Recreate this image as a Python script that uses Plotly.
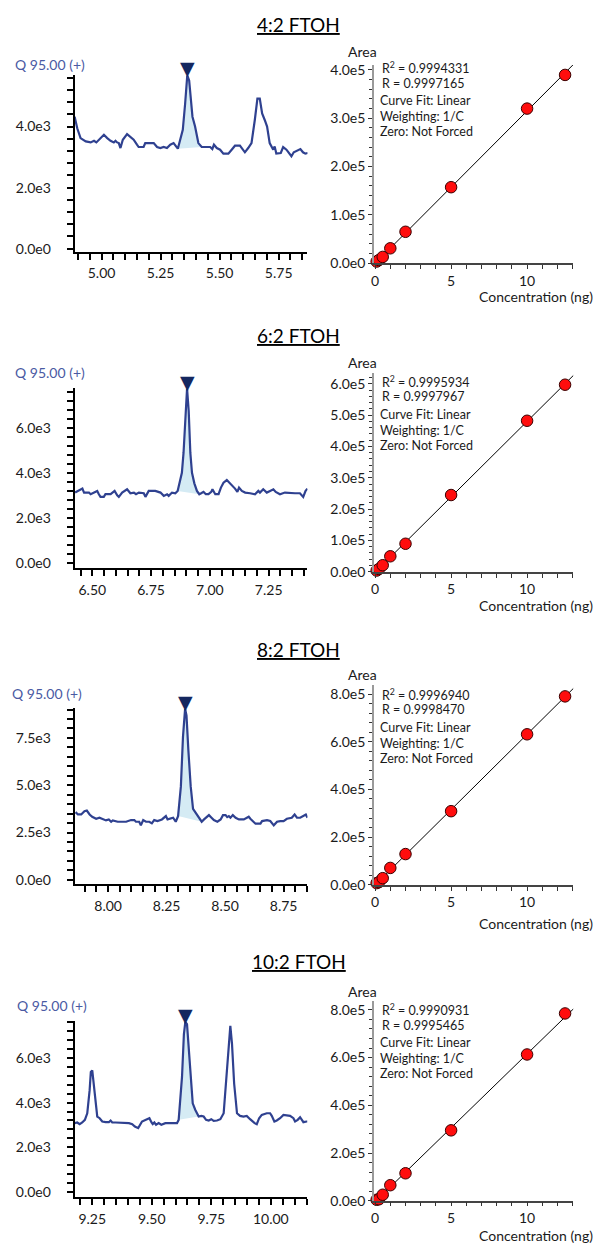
import numpy as np
import plotly.graph_objects as go

W, H = 599, 1251
FONT = "Lato"

compounds = ["4:2 FTOH", "6:2 FTOH", "8:2 FTOH", "10:2 FTOH"]
channel_label = "Q 95.00 (+)"

# ---------------- chromatogram traces (retention time, intensity) ----------------
t_1 = [4.886, 4.897, 4.911, 4.933, 4.954, 4.968, 4.978, 4.989, 5.003, 5.010, 5.024, 5.038, 5.052, 5.059,
       5.066, 5.073, 5.080, 5.090, 5.108, 5.122, 5.136, 5.150, 5.157, 5.178, 5.185, 5.221, 5.235, 5.249,
       5.263, 5.277, 5.291, 5.305, 5.312, 5.323, 5.333, 5.344, 5.354, 5.363, 5.371, 5.378, 5.385, 5.396,
       5.410, 5.424, 5.460, 5.469, 5.476, 5.488, 5.502, 5.516, 5.537, 5.551, 5.565, 5.586, 5.600, 5.607,
       5.621, 5.635, 5.649, 5.660, 5.670, 5.680, 5.691, 5.701, 5.712, 5.727, 5.733, 5.740, 5.759, 5.769,
       5.783, 5.793, 5.804, 5.814, 5.832, 5.842, 5.853, 5.863, 5.874]
i_1 = [4324, 3946, 3622, 3514, 3481, 3535, 3481, 3568, 3654, 3730, 3622, 3535, 3481, 3535,
       3481, 3459, 3297, 3568, 3751, 3643, 3568, 3405, 3330, 3330, 3459, 3459, 3330, 3297,
       3330, 3297, 3405, 3459, 3373, 3276, 3568, 3892, 4757, 5676, 5514, 4865, 4324, 4000,
       3459, 3330, 3330, 3265, 3405, 3297, 3243, 3114, 3114, 3243, 3373, 3373, 3243, 3157,
       3297, 3459, 4216, 4919, 4919, 4432, 4216, 4000, 3459, 3243, 3351, 3114, 3135, 3330,
       3243, 3135, 3027, 3157, 3243, 3265, 3157, 3114, 3135]

t_2 = [6.427, 6.436, 6.451, 6.458, 6.465, 6.486, 6.493, 6.507, 6.521, 6.528, 6.535, 6.549, 6.556, 6.578,
       6.595, 6.606, 6.613, 6.627, 6.648, 6.662, 6.677, 6.686, 6.698, 6.719, 6.726, 6.740, 6.768, 6.790,
       6.804, 6.818, 6.825, 6.839, 6.853, 6.863, 6.874, 6.881, 6.888, 6.895, 6.903, 6.910, 6.917, 6.924,
       6.934, 6.945, 6.955, 6.963, 6.973, 6.983, 6.994, 7.006, 7.011, 7.023, 7.037, 7.047, 7.058, 7.072,
       7.083, 7.093, 7.107, 7.117, 7.124, 7.136, 7.150, 7.171, 7.192, 7.206, 7.213, 7.227, 7.242, 7.256,
       7.270, 7.280, 7.298, 7.319, 7.340, 7.362, 7.383, 7.397, 7.407, 7.415]
i_2 = [3132, 3176, 3250, 3309, 3132, 3132, 3059, 3132, 3206, 3059, 2941, 2941, 3059, 3059,
       3206, 3015, 2941, 3132, 3279, 3103, 3132, 3059, 3132, 3103, 2941, 3206, 3206, 3132,
       2985, 3059, 2985, 3132, 3103, 3206, 3721, 4015, 4897, 6515, 7765, 6765, 4897, 4015,
       3544, 3206, 3059, 3103, 3162, 3059, 3059, 3162, 3279, 3059, 3059, 3353, 3574, 3691,
       3574, 3426, 3309, 3162, 3353, 3206, 3132, 3103, 3059, 3206, 3132, 3279, 3132, 3206,
       3279, 3162, 3059, 3132, 3103, 3103, 3103, 2941, 3206, 3309]

t_3 = [7.861, 7.871, 7.885, 7.899, 7.909, 7.921, 7.932, 7.949, 7.963, 7.977, 7.991, 8.003, 8.013, 8.020,
       8.041, 8.077, 8.098, 8.112, 8.119, 8.133, 8.140, 8.150, 8.162, 8.176, 8.187, 8.197, 8.211, 8.230,
       8.240, 8.247, 8.254, 8.268, 8.278, 8.289, 8.299, 8.311, 8.320, 8.329, 8.335, 8.343, 8.353, 8.363,
       8.374, 8.389, 8.400, 8.410, 8.420, 8.431, 8.442, 8.452, 8.467, 8.481, 8.491, 8.502, 8.509, 8.516,
       8.523, 8.533, 8.545, 8.559, 8.580, 8.601, 8.608, 8.630, 8.651, 8.658, 8.679, 8.693, 8.708, 8.722,
       8.736, 8.750, 8.764, 8.785, 8.797, 8.807, 8.821, 8.835, 8.845, 8.852]
i_3 = [3578, 3455, 3455, 3630, 3665, 3455, 3333, 3228, 3281, 3193, 3141, 3193, 3071, 3141,
       3071, 3071, 3158, 3158, 3071, 3071, 2880, 3158, 3071, 3071, 2984, 3158, 3106, 3193,
       3281, 3368, 3193, 3228, 3281, 3071, 3368, 4938, 7556, 9039, 8690, 6858, 4938, 3752,
       3542, 3281, 3071, 3193, 3281, 3420, 3281, 3158, 3071, 3193, 3420, 3420, 3316, 3368,
       3281, 3420, 3281, 3193, 3193, 3333, 3228, 2967, 2967, 3106, 3158, 3106, 2880, 3071,
       3106, 3106, 3228, 3281, 3455, 3281, 3281, 3368, 3455, 3281]

t_4 = [9.177, 9.187, 9.197, 9.208, 9.219, 9.229, 9.239, 9.244, 9.250, 9.256, 9.264, 9.271, 9.281, 9.292,
       9.306, 9.320, 9.327, 9.334, 9.348, 9.369, 9.390, 9.404, 9.418, 9.429, 9.443, 9.453, 9.459, 9.480,
       9.490, 9.499, 9.504, 9.511, 9.518, 9.529, 9.540, 9.557, 9.578, 9.592, 9.606, 9.613, 9.627, 9.635,
       9.641, 9.648, 9.655, 9.662, 9.672, 9.683, 9.697, 9.708, 9.718, 9.728, 9.739, 9.750, 9.760, 9.774,
       9.788, 9.802, 9.811, 9.823, 9.830, 9.837, 9.846, 9.858, 9.871, 9.885, 9.899, 9.913, 9.923, 9.932,
       9.941, 9.951, 9.962, 9.983, 9.997, 10.004, 10.015, 10.025, 10.039, 10.053, 10.081, 10.095, 10.102,
       10.113, 10.123, 10.137, 10.151, 10.154]
i_4 = [3081, 3110, 3036, 3110, 3229, 3525, 4562, 5376, 5450, 4858, 3821, 3377, 3303, 3155,
       3125, 3125, 3199, 3110, 3110, 3110, 3110, 3081, 3036, 2932, 2858, 3081, 3155, 3258,
       3303, 3110, 3036, 3110, 3007, 3081, 3007, 3081, 3081, 3081, 3081, 3229, 5154, 7079,
       7627, 7523, 6339, 5154, 3969, 3673, 3377, 3407, 3377, 3229, 3199, 3258, 3184, 3199,
       3258, 3525, 4858, 6635, 7449, 6635, 4858, 3525, 3407, 3377, 3407, 3258, 3155, 3081,
       3036, 3303, 3451, 3525, 3525, 3407, 3155, 3199, 3303, 3451, 3407, 3303, 3155,
       3229, 3347, 3125, 3155, 3155]

# integration window (start, end) of the quantified peak
peak_window_1 = (5.323, 5.424)
peak_window_2 = (6.863, 6.955)
peak_window_3 = (8.299, 8.400)
peak_window_4 = (9.613, 9.697)

# chromatogram tick values / labels
chrom_yticks_1 = [0, 2000, 4000]
chrom_ylabels_1 = ["0.0e0", "2.0e3", "4.0e3"]
chrom_yticks_2 = [0, 2000, 4000, 6000]
chrom_ylabels_2 = ["0.0e0", "2.0e3", "4.0e3", "6.0e3"]
chrom_yticks_3 = [0, 2500, 5000, 7500]
chrom_ylabels_3 = ["0.0e0", "2.5e3", "5.0e3", "7.5e3"]
chrom_yticks_4 = [0, 2000, 4000, 6000]
chrom_ylabels_4 = ["0.0e0", "2.0e3", "4.0e3", "6.0e3"]
chrom_xticks_1 = [5.00, 5.25, 5.50, 5.75]
chrom_xticks_2 = [6.50, 6.75, 7.00, 7.25]
chrom_xticks_3 = [8.00, 8.25, 8.50, 8.75]
chrom_xticks_4 = [9.25, 9.50, 9.75, 10.00]

# ---------------- calibration curves ----------------
conc = [0.1, 0.25, 0.5, 1, 2, 5, 10, 12.5]
area_1 = [3400, 6500, 13000, 30800, 65000, 157300, 320000, 389700]
area_2 = [4000, 9000, 21000, 49500, 89500, 245000, 482000, 597000]
area_3 = [7000, 11000, 27700, 70600, 128700, 308600, 631000, 790000]
area_4 = [4000, 6000, 25000, 65000, 115000, 295000, 613000, 785000]

r2_text = ["0.9994331", "0.9995934", "0.9996940", "0.9990931"]
r_text = ["0.9997165", "0.9997967", "0.9998470", "0.9995465"]
fit_lines = ["Curve Fit: Linear", "Weighting: 1/C", "Zero: Not Forced"]

cal_yticks_1 = [0, 100000, 200000, 300000, 400000]
cal_ylabels_1 = ["0.0e0", "1.0e5", "2.0e5", "3.0e5", "4.0e5"]
cal_yticks_2 = [0, 100000, 200000, 300000, 400000, 500000, 600000]
cal_ylabels_2 = ["0.0e0", "1.0e5", "2.0e5", "3.0e5", "4.0e5", "5.0e5", "6.0e5"]
cal_yticks_3 = [0, 200000, 400000, 600000, 800000]
cal_ylabels_3 = ["0.0e0", "2.0e5", "4.0e5", "6.0e5", "8.0e5"]
cal_yticks_4 = [0, 200000, 400000, 600000, 800000]
cal_ylabels_4 = ["0.0e0", "2.0e5", "4.0e5", "6.0e5", "8.0e5"]
cal_xticks = [0, 5, 10]
cal_xlabels = ["0", "5", "10"]

# ---------------- layout geometry (pixels) ----------------
chrom_geo = [  # x domain px, y domain px (top, bottom), y range, x range, y minor dtick
    dict(x=(72, 306), y=(72, 250), yr=(-97, 5680), xr=(4.886, 5.872), ym=400),
    dict(x=(72, 306), y=(388, 569.3), yr=(-220, 7777), xr=(6.425, 7.415), ym=400),
    dict(x=(72, 306), y=(711, 888.3), yr=(-209, 9073), xr=(7.857, 8.852), ym=500),
    dict(x=(72, 306), y=(1026.7, 1205), yr=(-253, 7671), xr=(9.176, 10.154), ym=400),
]
cal_geo = [
    dict(y=(61.7, 261.7), yr=(0, 410000), ym=20000),
    dict(y=(372.7, 573.3), yr=(0, 634000), ym=20000),
    dict(y=(687.3, 889.3), yr=(0, 839000), ym=40000),
    dict(y=(1006.7, 1208.3), yr=(0, 837000), ym=40000),
]
cal_x_dom = (373, 573.3)
cal_x_range = (-0.065, 13.05)
title_y = [20.5, 335, 651.7, 966.7]
qlabel_pos = [(10, 61), (10, 371.7), (7.5, 695.7), (12, 1011.7)]
area_y = [48.3, 361.7, 676.7, 996.7]
concl_y = [295.7, 607.7, 928.3, 1243.3]
stats_y0 = [64, 380.7, 696.7, 1015]
stats_off = [0, 16, 33.5, 49.5, 65]

traces_t = [t_1, t_2, t_3, t_4]
traces_i = [i_1, i_2, i_3, i_4]
windows = [peak_window_1, peak_window_2, peak_window_3, peak_window_4]
c_yt = [chrom_yticks_1, chrom_yticks_2, chrom_yticks_3, chrom_yticks_4]
c_yl = [chrom_ylabels_1, chrom_ylabels_2, chrom_ylabels_3, chrom_ylabels_4]
c_xt = [chrom_xticks_1, chrom_xticks_2, chrom_xticks_3, chrom_xticks_4]
areas = [area_1, area_2, area_3, area_4]
k_yt = [cal_yticks_1, cal_yticks_2, cal_yticks_3, cal_yticks_4]
k_yl = [cal_ylabels_1, cal_ylabels_2, cal_ylabels_3, cal_ylabels_4]


def px_x(p):
    return p / W


def px_y(p):
    return 1 - p / H


LINE_BLUE = "#2f4190"
FILL_BLUE = "#d5ebf4"
NAVY = "#15285f"
TXT = "#1a1a1a"

fig = go.Figure()
layout = dict(width=W, height=H, margin=dict(l=0, r=0, t=0, b=0),
              paper_bgcolor="white", plot_bgcolor="white", showlegend=False,
              font=dict(family=FONT, size=14, color=TXT))
annotations = []

for k in range(4):
    ci = 2 * k + 1      # chromatogram axis index
    ki = 2 * k + 2      # calibration axis index
    cx, cy = f"x{ci}", f"y{ci}"
    kx, ky = f"x{ki}", f"y{ki}"
    t = np.array(traces_t[k])
    v = np.array(traces_i[k])
    w0, w1 = windows[k]
    sel = (t >= w0 - 1e-9) & (t <= w1 + 1e-9)

    # peak area fill
    fig.add_trace(go.Scatter(x=t[sel], y=v[sel], mode="lines", fill="toself",
                             fillcolor=FILL_BLUE, line=dict(width=0, color=FILL_BLUE),
                             xaxis=cx, yaxis=cy, hoverinfo="skip"))
    # chromatogram line
    fig.add_trace(go.Scatter(x=t, y=v, mode="lines", line=dict(color=LINE_BLUE, width=2.2),
                             xaxis=cx, yaxis=cy))
    # peak apex marker
    ip = int(np.argmax(np.where(sel, v, -1)))
    annotations.append(dict(x=t[ip], y=v[ip], xref=cx, yref=cy, text="▼", showarrow=False,
                            yanchor="bottom", xanchor="center", yshift=-6,
                            font=dict(family="DejaVu Sans", size=19, color=NAVY)))

    g = chrom_geo[k]
    axx = dict(domain=[px_x(g["x"][0]), px_x(g["x"][1])], range=list(g["xr"]), anchor=cy,
               showline=True, linecolor="black", linewidth=2, showgrid=False, zeroline=False,
               ticks="outside", ticklen=6, tickwidth=2, tickcolor="black",
               tickmode="array", tickvals=c_xt[k], ticktext=[f"{x:.2f}" for x in c_xt[k]],
               ticklabelstandoff=2,
               minor=dict(tickmode="linear", tick0=c_xt[k][0], dtick=0.05, ticks="outside",
                          ticklen=6, tickwidth=2, tickcolor="black"),
               tickfont=dict(family=FONT, size=14, color=TXT), fixedrange=True)
    axy = dict(domain=[px_y(g["y"][1]), px_y(g["y"][0])], range=list(g["yr"]), anchor=cx,
               showline=True, linecolor="black", linewidth=2, showgrid=False, zeroline=False,
               ticks="outside", ticklen=6, tickwidth=2, tickcolor="black",
               tickmode="array", tickvals=c_yt[k], ticktext=c_yl[k], ticklabelstandoff=13,
               minor=dict(tickmode="linear", tick0=0, dtick=g["ym"], ticks="outside",
                          ticklen=6, tickwidth=2, tickcolor="black"),
               tickfont=dict(family=FONT, size=14, color=TXT), fixedrange=True)
    layout[f"xaxis{ci}"] = axx
    layout[f"yaxis{ci}"] = axy

    # calibration
    c = np.array(conc, dtype=float)
    a = np.array(areas[k], dtype=float)
    slope, icpt = np.polyfit(c, a, 1, w=1 / np.sqrt(c))
    xl = np.array([0.0, cal_x_range[1]])
    fig.add_trace(go.Scatter(x=xl, y=slope * xl + icpt, mode="lines",
                             line=dict(color="black", width=1), xaxis=kx, yaxis=ky,
                             cliponaxis=False))
    fig.add_trace(go.Scatter(x=c, y=a, mode="markers", cliponaxis=False,
                             marker=dict(size=11.5, color="#ff0d0d",
                                         line=dict(color="#3a0000", width=1)),
                             xaxis=kx, yaxis=ky))
    h = cal_geo[k]
    kax = dict(domain=[px_x(cal_x_dom[0]), px_x(cal_x_dom[1])], range=list(cal_x_range), anchor=ky,
               showline=True, linecolor="#444444", linewidth=1.5, showgrid=False, zeroline=False,
               ticks="outside", ticklen=4, tickwidth=1, tickcolor="#333333",
               tickmode="array", tickvals=cal_xticks, ticktext=cal_xlabels,
               minor=dict(tickmode="linear", tick0=0, dtick=1, ticks="outside", ticklen=4,
                          tickwidth=1, tickcolor="#333333"),
               tickfont=dict(family=FONT, size=14, color=TXT), fixedrange=True)
    kay = dict(domain=[px_y(h["y"][1]), px_y(h["y"][0])], range=list(h["yr"]), anchor=kx,
               showline=True, linecolor="#9a9a9a", linewidth=2, showgrid=False, zeroline=False,
               ticks="outside", ticklen=4, tickwidth=1, tickcolor="#333333",
               tickmode="array", tickvals=k_yt[k], ticktext=k_yl[k],
               minor=dict(tickmode="linear", tick0=0, dtick=h["ym"], ticks="outside", ticklen=3,
                          tickwidth=1, tickcolor="#333333"),
               tickfont=dict(family=FONT, size=14, color=TXT), fixedrange=True)
    layout[f"xaxis{ki}"] = kax
    layout[f"yaxis{ki}"] = kay

    # texts
    annotations.append(dict(x=px_x(297), y=px_y(title_y[k]), xref="paper", yref="paper",
                            text=f"<u>{compounds[k]}</u>", showarrow=False, xanchor="center",
                            yanchor="middle", font=dict(family=FONT, size=19, color="black")))
    qx, qy = qlabel_pos[k]
    annotations.append(dict(x=px_x(qx), y=px_y(qy), xref="paper", yref="paper",
                            text=channel_label, showarrow=False, xanchor="left", yanchor="middle",
                            font=dict(family=FONT, size=14, color="#4a5aa3")))
    annotations.append(dict(x=px_x(361), y=px_y(area_y[k]), xref="paper", yref="paper",
                            text="Area", showarrow=False, xanchor="center", yanchor="middle",
                            font=dict(family=FONT, size=14, color=TXT)))
    annotations.append(dict(x=px_x(595), y=px_y(concl_y[k]), xref="paper", yref="paper",
                            text="Concentration (ng)", showarrow=False, xanchor="right",
                            yanchor="middle", font=dict(family=FONT, size=14, color=TXT)))
    lines = [f"R<sup>2</sup> = {r2_text[k]}", f"R = {r_text[k]}"] + fit_lines
    for j, s in enumerate(lines):
        annotations.append(dict(x=px_x(379 if j < 2 else 376.5),
                                y=px_y(stats_y0[k] + stats_off[j]), xref="paper", yref="paper",
                                text=s, showarrow=False, xanchor="left", yanchor="middle",
                                font=dict(family=FONT, size=12.5, color=TXT)))

layout["annotations"] = annotations
fig.update_layout(**layout)
fig.write_html("out.html", config={"displayModeBar": False},
               post_script="document.body.style.margin='0';document.body.style.padding='0';"
                           "document.documentElement.style.overflow='hidden';")
